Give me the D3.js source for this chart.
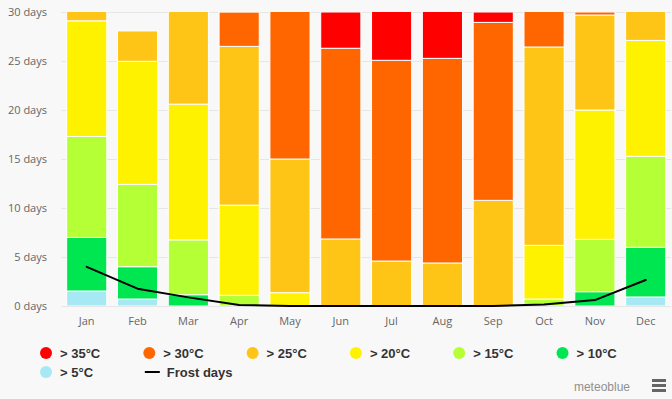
<!DOCTYPE html>
<html><head><meta charset="utf-8">
<script src="https://cdn.jsdelivr.net/npm/d3@7"></script>
<style>
html,body{margin:0;padding:0;background:#f8f8f8;}
svg{display:block;}
</style></head>
<body><svg id="c" width="672" height="399"></svg>
<script>
const months = ["Jan","Feb","Mar","Apr","May","Jun","Jul","Aug","Sep","Oct","Nov","Dec"];
const gt35 = [0,0,0,0,0,3.7,5.93,5.73,1.06,0,0,0];
const gt30 = [0,0,0,3.5,16,19.46,20.48,20.88,18.16,4.57,0.31,0];
const gt25 = [1.92,3.1,10.42,16.2,13.64,6.84,4.59,4.39,10.78,20.24,9.69,3.9];
const gt20 = [11.8,12.56,13.85,9.2,1.36,0,0,0,0,5.48,13.2,11.83];
const gt15 = [10.3,8.4,5.6,1.09,0,0,0,0,0,0.71,5.34,9.28];
const gt10 = [5.47,3.3,1.15,0,0,0,0,0,0,0,1.46,5.07];
const gt5  = [1.53,0.71,0,0,0,0,0,0,0,0,0,0.92];
const frost = [4.0,1.77,0.88,0.1,0,0,0,0,0,0.15,0.6,2.65];
const yTicks = [0,5,10,15,20,25,30];

const seriesNames = ["> 35°C","> 30°C","> 25°C","> 20°C","> 15°C","> 10°C","> 5°C"];
const seriesData = [gt35,gt30,gt25,gt20,gt15,gt10,gt5];
const seriesColors = ["#ff0000","#ff6600","#ffc516","#fff200","#b4ff36","#00e650","#a6e8f3"];

const svg = d3.select("#c");
const pL = 61.3, pR = 671.1, pT = 12, pB = 306;

const x = d3.scaleBand().domain(months).range([pL,pR]).paddingInner(0.21).paddingOuter(0.105);
const y = d3.scaleLinear().domain([0,30]).range([pB,pT]);

svg.append("rect").attr("width",672).attr("height",399).attr("fill","#f8f8f8");

// grid
svg.append("g").selectAll("line").data(yTicks).join("line")
  .attr("x1",pL).attr("x2",pR).attr("y1",d=>Math.round(y(d))+0.5).attr("y2",d=>Math.round(y(d))+0.5)
  .attr("stroke","#e6e6e6").attr("stroke-width",1);

// y labels
svg.append("g").selectAll("text").data(yTicks).join("text")
  .attr("x",47).attr("y",d=>y(d)+4)
  .attr("text-anchor","end").attr("fill","#666").attr("font-family","'Open Sans',sans-serif").attr("font-size",11)
  .text(d=>d+" days");

// x labels
svg.append("g").selectAll("text").data(months).join("text")
  .attr("x",d=>x(d)+x.bandwidth()/2).attr("y",325)
  .attr("text-anchor","middle").attr("fill","#666").attr("font-family","'Open Sans',sans-serif").attr("font-size",11)
  .text(d=>d);

// clip
svg.append("clipPath").attr("id","pc").append("rect").attr("x",pL).attr("y",pT).attr("width",pR-pL).attr("height",pB-pT);

// stacked bars (bottom first)
const table = months.map((m,i)=>{const o={month:m}; seriesNames.forEach((n,j)=>o[n]=seriesData[j][i]); return o;});
const keys = seriesNames.slice().reverse();
const stack = d3.stack().keys(keys)(table);
const colorOf = n => seriesColors[seriesNames.indexOf(n)];

const gb = svg.append("g").attr("clip-path","url(#pc)");
stack.forEach(layer=>{
  gb.append("g").selectAll("rect").data(layer.filter(d=>d[1]-d[0]>0)).join("rect")
    .attr("x",d=>x(d.data.month)).attr("width",x.bandwidth())
    .attr("y",d=>y(d[1])).attr("height",d=>y(d[0])-y(d[1]))
    .attr("fill",colorOf(layer.key)).attr("stroke","#ffffff").attr("stroke-width",1);
});

// frost line
const line = d3.line().x((d,i)=>x(months[i])+x.bandwidth()/2).y(d=>y(d));
svg.append("path").datum(frost).attr("d",line).attr("fill","none").attr("stroke","#000").attr("stroke-width",2)
  .attr("stroke-linejoin","round").attr("stroke-linecap","round");

// legend
const lg = svg.append("g").attr("font-family","'Liberation Sans Narrow','Liberation Sans',Arial,sans-serif").attr("font-size",13).attr("font-weight","bold").attr("fill","#333");
const items = seriesNames.map((n,i)=>({name:n,color:seriesColors[i],type:"dot"})).concat([{name:"Frost days",color:"#000",type:"line"}]);
items.forEach((it,i)=>{
  const col = i%6, row = Math.floor(i/6);
  const cx = 46 + col*103.3, cy = 353 + row*19;
  if(it.type==="dot"){
    lg.append("circle").attr("cx",cx).attr("cy",cy).attr("r",6).attr("fill",it.color);
  } else {
    lg.append("line").attr("x1",cx-4.5).attr("x2",cx+10.5).attr("y1",cy).attr("y2",cy).attr("stroke","#000").attr("stroke-width",2);
  }
  lg.append("text").attr("x",cx+(it.type==="dot"?14:17.5)).attr("y",cy+4.5).text(it.name);
});

// credits
svg.append("text").attr("x",630).attr("y",391).attr("text-anchor","end").attr("fill","#909090")
  .attr("font-family","'Liberation Sans Narrow','Liberation Sans',Arial,sans-serif").attr("font-size",12).text("meteoblue");
[0,5,10].forEach(dy=>svg.append("rect").attr("x",652).attr("y",379+dy).attr("width",14).attr("height",3).attr("fill","#666"));
</script></body></html>
